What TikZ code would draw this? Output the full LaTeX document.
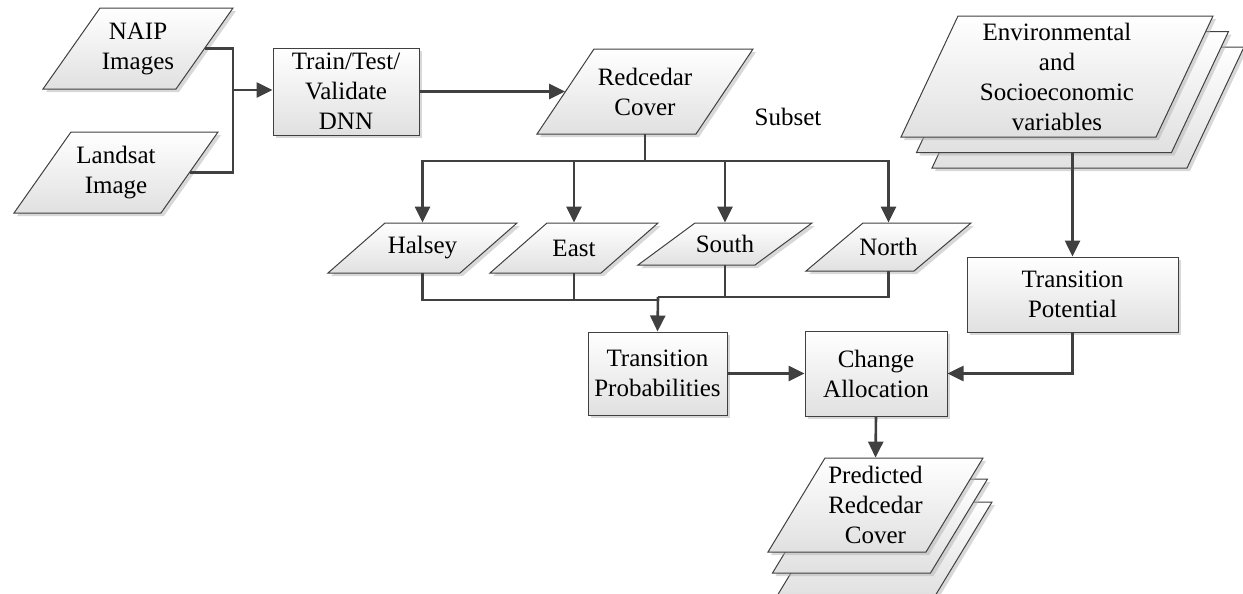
\documentclass[tikz,border=0pt]{standalone}
\usepackage{fontspec}
\setmainfont{Liberation Serif}
\usetikzlibrary{arrows.meta,shadows}

\tikzset{
  shadebox/.style={draw=black!75, line width=0.5pt, top color=white, bottom color=black!12,
    drop shadow={shadow xshift=1.5pt, shadow yshift=-1.5pt, fill=black!30, opacity=0.5}},
  textfont/.style={font=\fontsize{12.5}{15}\selectfont, align=center, inner sep=0pt},
  process/.style={shadebox, textfont, rectangle},
  datatext/.style={textfont, rectangle},
  link/.style={draw=black!75, line width=1.3pt},
  flow/.style={link, -{Triangle[length=8pt,width=7.5pt]}}
}

% parallelogramo de dados: nome, centro, meia largura, meia altura, texto
\newcommand{\dataio}[5]{%
  \begin{scope}[shift={(#2)}]
    \path[shadebox] (-#3+57,-#4) -- (#3,-#4) -- (#3-57,#4) -- (-#3,#4) -- cycle;
  \end{scope}
  \node[datatext, minimum width=#3pt, minimum height=#4pt] (#1) at (#2) {#5};
}

\begin{document}
\begin{tikzpicture}[x=0.5pt, y=-0.5pt]
  \useasboundingbox (0,0) rectangle (1243,594);
  \clip (0,0) rectangle (1243,594);

  % Imagens de entrada
  \dataio{naip}{138,48.5}{95}{40.5}{NAIP\\Images}
  \dataio{landsat}{116,172.5}{102}{40.5}{Landsat\\Image}

  % Classificacao
  \node[process, minimum width=73pt, minimum height=43.5pt] (train) at (346,91.5) {Train/Test/\\Validate\\DNN};
  \dataio{cover}{645,91.5}{108}{42.5}{Redcedar\\Cover}
  \node[textfont] (subset) at (788,117) {Subset};

  % Subconjuntos
  \dataio{r1}{422.5,248}{94.5}{25}{Halsey}
  \dataio{r2}{574,248}{84}{25}{East}
  \dataio{r3}{725,244}{87}{21}{South}
  \dataio{r4}{888.5,247}{82.5}{24}{North}

  % Variaveis (pilha)
  \dataio{envC}{1088,107.5}{156}{60.5}{}
  \dataio{envB}{1072.5,92}{156}{60.5}{}
  \dataio{envA}{1057,76.5}{156}{60.5}{Environmental\\and\\Socioeconomic\\variables}

  % Modelo
  \node[process, minimum width=105.5pt, minimum height=37.5pt] (tpot) at (1072.5,294.5) {Transition\\Potential};
  \node[process, minimum width=69.5pt, minimum height=41.5pt] (tprob) at (657.5,373.5) {Transition\\Probabilities};
  \node[process, minimum width=71pt, minimum height=42.5pt] (change) at (876,373.5) {Change\\Allocation};

  % Saida (pilha)
  \dataio{predC}{884.5,549}{107.5}{47}{}
  \dataio{predB}{880,526}{107.5}{47}{}
  \dataio{predA}{875.5,505}{107.5}{47}{Predicted\\Redcedar\\Cover}

  % Pontos de juncao
  \coordinate (jn) at (233,90);
  \coordinate (split) at (645,161);
  \coordinate (mergeL) at (658,300);
  \coordinate (mergeR) at (658,297);

  % Setas
  \draw[link] ([xshift=-14.25pt]naip.east) -| (jn) |- ([xshift=-14.25pt]landsat.east);
  \draw[flow] (jn) -- (jn -| train.west);
  \draw[flow] (train.east) -- ([xshift=14.25pt]cover.west);
  \draw[link] (cover.south) -- (split);
  \foreach \n in {r1,r2,r3,r4}
    \draw[flow] (split) -| (\n.north);
  \foreach \n in {r1,r2}
    \draw[link] (\n.south) |- (mergeL);
  \foreach \n in {r3,r4}
    \draw[link] (\n.south) |- (mergeR);
  \draw[flow] (mergeR) -- (tprob.north);
  \draw[flow] (envB.south) -- (tpot.north);
  \draw[flow] (tprob.east) -- (change.west);
  \draw[flow] (tpot.south) |- (change.east);
  \draw[flow] (change.south) -- (predA.north);

\end{tikzpicture}
\end{document}
